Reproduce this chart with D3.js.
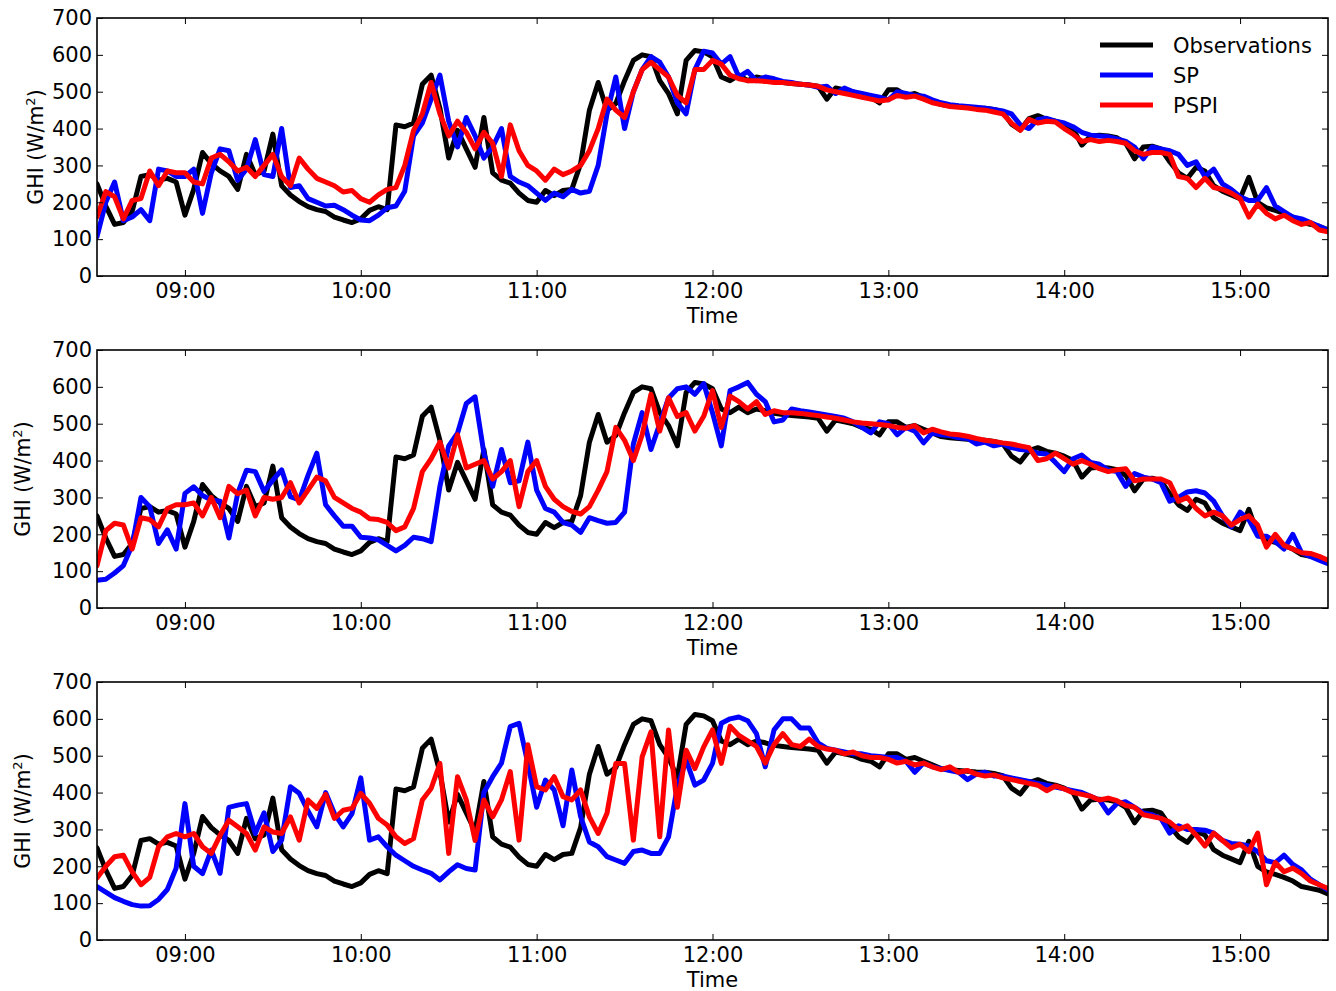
<!DOCTYPE html>
<html>
<head>
<meta charset="utf-8">
<script src="https://cdn.jsdelivr.net/npm/d3@7"></script>
<style>
html, body { margin: 0; padding: 0; background: #fff; }
svg text { font-family: "DejaVu Sans", "Liberation Sans", sans-serif; fill: #000; }
</style>
</head>
<body>
<svg id="chart" width="1336" height="991"></svg>
<script>
// ---------------- data ----------------
const startTime = "08:30";
const endTime = "15:30";
const stepMinutes = 3;
const xTickLabels = ["09:00", "10:00", "11:00", "12:00", "13:00", "14:00", "15:00"];
const yTicks = [0, 100, 200, 300, 400, 500, 600, 700];
const seriesNames = ["Observations", "SP", "PSPI"];
const xLabel = "Time";

// Observed GHI (W/m2), every 3 minutes from 08:30 to 15:30
const observations = [
  250,190,140,145,175,270,275,260,265,255,
  165,235,335,305,285,270,235,330,275,285,
  385,245,220,202,188,180,175,160,152,145,
  155,178,188,180,410,405,415,520,545,455,
  320,395,345,295,430,280,260,252,225,205,
  200,232,218,232,235,305,450,525,450,468,
  530,585,600,595,530,495,440,585,612,608,
  595,540,530,545,530,540,535,528,525,522,
  520,518,515,480,510,505,500,490,485,470,
  505,505,490,495,485,475,465,462,460,458,
  456,455,452,446,412,396,427,435,425,420,
  412,400,355,380,382,380,375,360,318,350,
  352,345,310,280,265,295,285,245,230,220,
  210,268,200,185,178,170,160,145,140,135,
  125
];

// Panel 1
const sp1 = [
  107,200,255,150,160,180,150,290,285,270,
  270,290,170,280,345,340,260,290,370,275,
  270,400,240,245,210,200,190,192,180,165,
  152,150,165,185,190,230,380,415,480,545,
  420,350,430,380,320,350,400,270,255,245,
  225,205,225,215,235,225,230,300,440,540,
  400,500,560,595,580,540,470,440,560,610,
  605,575,595,540,555,530,540,535,528,525,
  520,518,512,515,495,510,500,495,490,485,
  478,500,495,490,488,478,470,465,462,460,
  458,455,452,448,440,410,400,425,428,420,
  415,405,390,382,380,378,372,365,350,318,
  350,345,340,330,300,310,270,290,250,235,
  215,205,205,240,190,175,160,155,145,135,
  125
];
const pspi1 = [
  160,229,215,155,205,210,285,245,285,280,
  280,255,250,320,330,310,285,295,270,300,
  330,270,245,320,290,265,255,245,228,232,
  210,200,220,235,240,300,395,440,525,440,
  380,420,390,345,390,360,270,410,340,300,
  285,260,290,275,285,300,340,400,480,450,
  430,500,560,580,560,540,490,470,560,560,
  585,575,545,535,530,530,528,525,525,522,
  520,518,515,505,500,495,490,485,480,475,
  478,490,485,488,480,470,465,460,458,456,
  452,450,445,440,415,395,425,415,420,418,
  400,385,365,370,365,368,365,360,340,330,
  335,335,330,270,265,240,265,240,235,225,
  210,160,195,170,155,165,150,140,145,125,
  120
];

// Panel 2
const sp2 = [
  75,78,95,115,170,300,275,175,212,160,
  311,329,305,293,290,190,311,374,370,316,
  347,375,302,293,360,420,280,250,222,222,
  192,190,185,170,155,170,192,188,180,330,
  440,474,555,573,420,330,430,340,345,450,
  320,270,260,232,225,205,245,237,230,232,
  260,445,530,430,500,570,595,600,580,609,
  530,440,590,600,612,580,560,505,510,540,
  535,532,528,524,520,515,505,490,475,505,
  500,470,490,480,448,475,470,468,462,460,
  445,450,440,445,435,430,428,420,418,395,
  370,405,415,395,390,375,370,330,365,355,
  350,340,290,300,315,318,312,290,250,220,
  260,240,195,195,180,160,200,150,140,130,
  120
];
const pspi2 = [
  115,210,230,225,160,245,240,220,270,280,
  280,285,250,300,245,330,310,320,250,300,
  295,300,340,285,320,355,345,300,285,270,
  260,242,240,232,210,220,270,370,405,450,
  380,470,380,390,400,350,370,400,275,370,
  400,330,295,275,262,255,275,320,370,490,
  455,400,470,580,480,570,520,530,480,520,
  590,490,575,560,540,560,525,535,530,530,
  528,525,522,518,515,510,505,502,500,498,
  495,490,488,495,475,485,478,472,470,466,
  460,455,452,448,445,440,435,400,405,420,
  405,390,400,390,378,370,375,378,345,350,
  350,350,340,290,300,270,250,260,250,225,
  240,250,225,165,200,170,160,150,148,140,
  130
];

// Panel 3
const sp3 = [
  145,130,115,105,96,92,93,110,137,195,
  370,200,180,244,181,360,366,370,289,345,
  240,271,416,398,350,307,400,343,307,343,
  440,271,280,253,230,215,200,190,181,163,
  185,204,194,190,400,443,480,579,588,479,
  360,434,407,310,461,335,266,253,226,217,
  208,240,244,235,235,280,416,488,420,434,
  479,588,600,605,595,560,470,570,600,600,
  575,575,535,520,515,510,505,505,500,498,
  495,495,485,455,480,470,465,460,455,435,
  450,455,445,445,440,435,430,425,420,415,
  410,405,400,390,380,345,370,375,360,345,
  340,330,290,310,300,300,298,290,270,262,
  260,255,240,215,210,230,205,190,165,150,
  135
];
const pspi3 = [
  168,200,226,230,185,150,170,253,280,289,
  280,289,253,235,284,325,307,289,244,307,
  293,289,334,271,380,357,395,330,352,357,
  398,371,330,312,280,262,275,380,411,479,
  235,443,380,270,380,334,380,457,271,530,
  416,407,443,389,380,407,334,289,344,479,
  479,271,497,565,280,570,360,515,465,524,
  570,479,580,555,540,525,480,530,560,530,
  525,545,525,518,515,505,510,500,495,495,
  490,480,485,475,480,470,462,470,455,460,
  450,445,448,440,435,430,425,420,405,418,
  410,400,395,390,380,385,378,365,360,340,
  335,330,320,300,310,285,255,290,270,250,
  260,240,290,150,210,185,195,180,160,150,
  140
];

// ---------------- drawing ----------------
const colors = ["#000000", "#0000ff", "#ff0000"];
const panels = [
  { sp: sp1, pspi: pspi1, legend: true,  ylabelX: 35.5 },
  { sp: sp2, pspi: pspi2, legend: false, ylabelX: 22.5 },
  { sp: sp3, pspi: pspi3, legend: false, ylabelX: 22.5 }
];

const svg = d3.select("#chart");
const parseT = d3.timeParse("%H:%M");
const t0 = parseT(startTime), t1 = parseT(endTime);
const timeAt = i => new Date(t0.getTime() + i * stepMinutes * 60000);
const xTicks = xTickLabels.map(parseT);

const left = 97, right = 1328, plotH = 258, firstTop = 18, panelStep = 332;
const FS = 21;

const x = d3.scaleTime().domain([t0, t1]).range([left, right]);

svg.append("rect").attr("width", 1336).attr("height", 991).attr("fill", "#fff");

function styleAxis(g) {
  g.select(".domain").remove();
  g.selectAll(".tick line").attr("stroke", "#000").attr("stroke-width", 1);
  g.selectAll(".tick text").attr("font-size", FS).attr("font-family", "DejaVu Sans").attr("fill", "#000");
  g.attr("font-size", null).attr("font-family", null);
}

panels.forEach((p, k) => {
  const top = firstTop + k * panelStep;
  const bottom = top + plotH;
  const y = d3.scaleLinear().domain([0, 700]).range([bottom, top]);
  const g = svg.append("g");

  const clipId = "clip" + k;
  g.append("clipPath").attr("id", clipId)
    .append("rect").attr("x", left).attr("y", top).attr("width", right - left).attr("height", plotH);

  const line = d3.line()
    .x((d, i) => x(timeAt(i)))
    .y(d => y(d));

  const series = [observations, p.sp, p.pspi];
  const lg = g.append("g").attr("clip-path", `url(#${clipId})`);
  series.forEach((s, j) => {
    lg.append("path")
      .datum(s)
      .attr("d", line)
      .attr("fill", "none")
      .attr("stroke", colors[j])
      .attr("stroke-width", 5)
      .attr("stroke-linejoin", "round")
      .attr("stroke-linecap", "round");
  });

  // axes (inward ticks on all sides)
  g.append("g").attr("transform", `translate(0,${bottom})`)
    .call(d3.axisBottom(x).tickValues(xTicks).tickFormat(d3.timeFormat("%H:%M"))
      .tickSizeInner(-6).tickSizeOuter(0).tickPadding(7))
    .call(styleAxis);
  g.append("g").attr("transform", `translate(0,${top})`)
    .call(d3.axisTop(x).tickValues(xTicks).tickFormat("")
      .tickSizeInner(-6).tickSizeOuter(0))
    .call(styleAxis);
  g.append("g").attr("transform", `translate(${left},0)`)
    .call(d3.axisLeft(y).tickValues(yTicks).tickFormat(d3.format("d"))
      .tickSizeInner(-6).tickSizeOuter(0).tickPadding(5))
    .call(styleAxis);
  g.append("g").attr("transform", `translate(${right},0)`)
    .call(d3.axisRight(y).tickValues(yTicks).tickFormat("")
      .tickSizeInner(-6).tickSizeOuter(0))
    .call(styleAxis);

  g.append("rect")
    .attr("x", left).attr("y", top).attr("width", right - left).attr("height", plotH)
    .attr("fill", "none").attr("stroke", "#000").attr("stroke-width", 1.6);

  // x label
  g.append("text")
    .attr("x", (left + right) / 2).attr("y", bottom + 47)
    .attr("text-anchor", "middle").attr("font-size", FS)
    .text(xLabel);

  // y label
  const yl = g.append("text")
    .attr("transform", `translate(${p.ylabelX},${(top + bottom) / 2}) rotate(-90)`)
    .attr("text-anchor", "middle").attr("font-size", 20.5).attr("dy", "0.36em");
  yl.append("tspan").text("GHI (W/m");
  yl.append("tspan").attr("font-size", 13).attr("dy", -8).text("2");
  yl.append("tspan").attr("font-size", 20.5).attr("dy", 8).text(")");

  // legend
  if (p.legend) {
    seriesNames.forEach((name, j) => {
      const ly = 45 + j * 30;
      g.append("line").attr("x1", 1100).attr("x2", 1153).attr("y1", ly).attr("y2", ly)
        .attr("stroke", colors[j]).attr("stroke-width", 5);
      g.append("text").attr("x", 1173).attr("y", ly).attr("dy", "0.36em")
        .attr("font-size", FS).text(name);
    });
  }
});
</script>
</body>
</html>
